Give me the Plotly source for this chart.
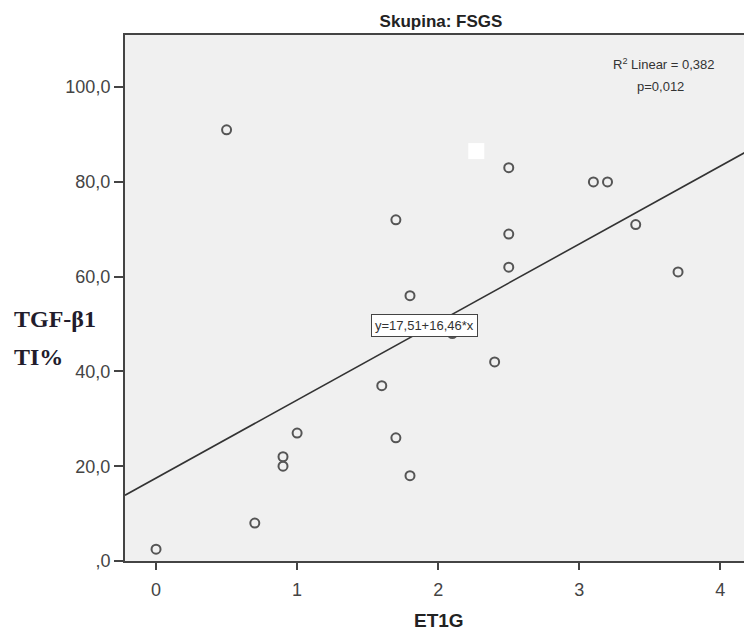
import plotly.graph_objects as go

# Data
et1g = [0, 0.5, 0.7, 0.9, 0.9, 1.0, 1.6, 1.7, 1.7, 1.8, 1.8, 2.1, 2.4, 2.5, 2.5, 2.5, 3.1, 3.2, 3.4, 3.7]
tgf = [2.5, 91, 8, 22, 20, 27, 37, 72, 26, 56, 18, 48, 42, 83, 69, 62, 80, 80, 71, 61]

intercept = 17.51
slope = 16.46

x_tickvals = [0, 1, 2, 3, 4]
x_ticktext = ["0", "1", "2", "3", "4"]
y_tickvals = [0, 20, 40, 60, 80, 100]
y_ticktext = [",0", "20,0", "40,0", "60,0", "80,0", "100,0"]

x_range = [-0.22, 4.21]
y_range = [0, 111]

# white square artifact present in the original picture
artifact_x = [2.27]
artifact_y = [86.5]

mean_x = sum(et1g) / len(et1g)
mean_y = intercept + slope * mean_x

line_x = x_range
line_y = [intercept + slope * v for v in x_range]

axis_color = "#444444"
font_family = "Liberation Sans, Arial, sans-serif"
serif_family = "Liberation Serif, Times New Roman, serif"

# page offset (the html body adds a small margin); keep the figure inside the window
OFF = 8
W, H = 752 - OFF, 630 - OFF
# plot area in window pixels: left 125, right 752, top 35, bottom 561
ml, mt = 125 - OFF, 35 - OFF
mr = W - (752 - OFF)
mb = H - (561 - OFF)
pw, ph = W - ml - mr, H - mt - mb


def px_to_paper(wx, wy):
    fx, fy = wx - OFF, wy - OFF
    return (fx - ml) / pw, (H - mb - fy) / ph


fig = go.Figure()

fig.add_trace(go.Scatter(
    x=line_x, y=line_y, mode="lines",
    line=dict(color="#333333", width=1.6),
    hoverinfo="skip", showlegend=False,
))

fig.add_trace(go.Scatter(
    x=artifact_x, y=artifact_y, mode="markers",
    marker=dict(symbol="square", size=16, color="white", line=dict(width=0)),
    hoverinfo="skip", showlegend=False,
))

fig.add_trace(go.Scatter(
    x=et1g, y=tgf, mode="markers",
    marker=dict(symbol="circle-open", size=9, color="#555555", line=dict(width=2, color="#555555")),
    showlegend=False,
))

fig.add_annotation(
    x=mean_x, y=mean_y, xref="x", yref="y", yshift=4,
    text="y=17,51+16,46*x", showarrow=False,
    font=dict(family=font_family, size=13, color="#333333"),
    bgcolor="white", bordercolor="#444444", borderwidth=1, borderpad=3,
)

ax, ay = px_to_paper(666, 64)
fig.add_annotation(
    x=ax, y=ay, xref="paper", yref="paper",
    text="R<sup>2</sup> Linear = 0,382", showarrow=False,
    font=dict(family=font_family, size=13, color="#333333"),
    xanchor="center", yanchor="middle",
)
ax, ay = px_to_paper(662, 87)
fig.add_annotation(
    x=ax, y=ay, xref="paper", yref="paper",
    text="p=0,012", showarrow=False,
    font=dict(family=font_family, size=13, color="#333333"),
    xanchor="center", yanchor="middle",
)

ax, ay = px_to_paper(12, 319)
fig.add_annotation(
    x=ax, y=ay, xref="paper", yref="paper",
    text="<b>TGF-β1</b>", showarrow=False,
    font=dict(family=serif_family, size=24, color="#221c2c"),
    xanchor="left", yanchor="middle",
)
ax, ay = px_to_paper(12, 357)
fig.add_annotation(
    x=ax, y=ay, xref="paper", yref="paper",
    text="<b>TI%</b>", showarrow=False,
    font=dict(family=serif_family, size=24, color="#221c2c"),
    xanchor="left", yanchor="middle",
)

ax, ay = px_to_paper(440, 620)
fig.add_annotation(
    x=ax, y=ay, xref="paper", yref="paper",
    text="<b>ET1G</b>", showarrow=False,
    font=dict(family=font_family, size=19, color="#222222"),
    xanchor="center", yanchor="middle",
)

fig.update_layout(
    width=W, height=H,
    margin=dict(l=ml, r=mr, t=mt, b=mb),
    paper_bgcolor="white",
    plot_bgcolor="#f0f0f0",
    title=dict(
        text="<b>Skupina: FSGS</b>", x=(441 - OFF) / W, xanchor="center",
        y=1 - (21 - OFF) / H, yanchor="middle",
        font=dict(family=font_family, size=17, color="#222222"),
    ),
    xaxis=dict(
        range=x_range, tickvals=x_tickvals, ticktext=x_ticktext,
        showgrid=False, zeroline=False,
        showline=True, linecolor=axis_color, linewidth=2, mirror=True,
        ticks="outside", ticklen=7, tickwidth=2, tickcolor=axis_color,
        ticklabelstandoff=4,
        tickfont=dict(family=font_family, size=18, color="#444444"),
    ),
    yaxis=dict(
        range=y_range, tickvals=y_tickvals, ticktext=y_ticktext,
        showgrid=False, zeroline=False,
        showline=True, linecolor=axis_color, linewidth=2, mirror=True,
        ticks="outside", ticklen=9, tickwidth=2, tickcolor=axis_color,
        tickfont=dict(family=font_family, size=18, color="#444444"),
    ),
)

fig.write_html("out.html")
